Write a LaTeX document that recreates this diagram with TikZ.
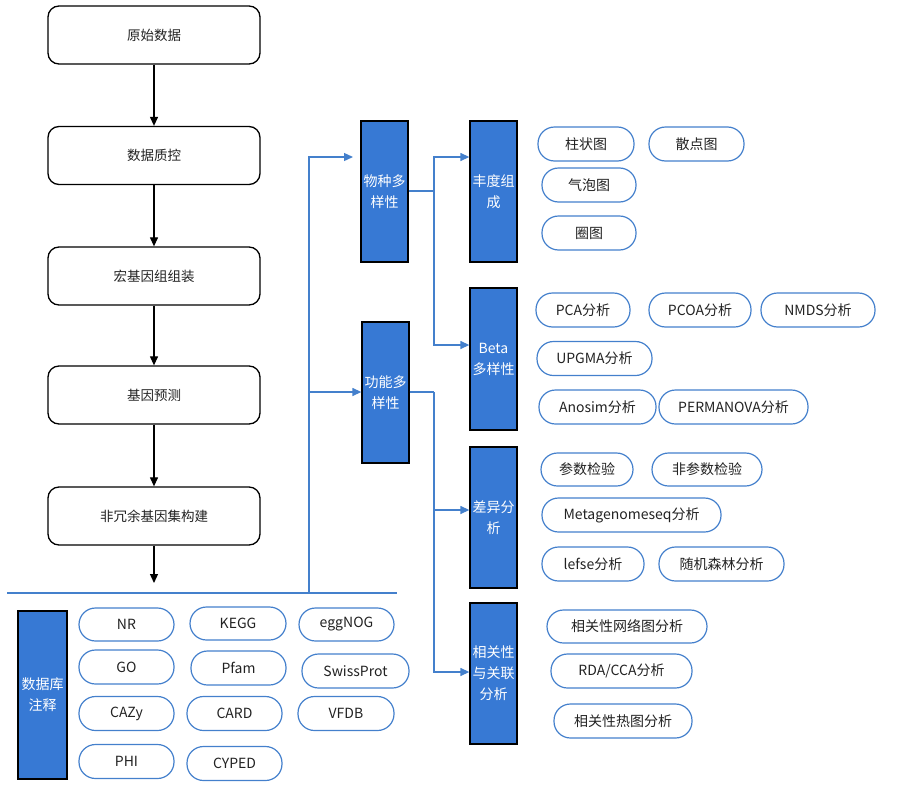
\documentclass[tikz,border=0pt]{standalone}
\usepackage{fontspec}
\setmainfont{Noto Sans CJK SC}
\usetikzlibrary{arrows.meta}
\definecolor{bfill}{RGB}{55,121,212}
\definecolor{bline}{RGB}{68,128,204}
\definecolor{txt}{RGB}{34,34,34}
\begin{document}
\begin{tikzpicture}[x=1pt,y=-1pt,font=\fontsize{13.5}{18}\selectfont,
  flow/.style={draw=black, line width=1.3pt, rounded corners=11pt, minimum width=212pt, minimum height=58pt, inner sep=0pt, text=txt},
  bbox/.style={draw=black, line width=1.3pt, fill=bfill, text=white, minimum width=47pt, minimum height=141pt, inner sep=0pt, align=center, font=\fontsize{14}{21}\selectfont},
  pill/.style={draw=bline, line width=1.2pt, rounded corners=16.5pt, minimum height=34pt, inner sep=0pt, text=txt, font=\fontsize{14}{18}\selectfont},
  blk/.style={draw=black, line width=1.2pt, -{Triangle[length=9pt,width=8pt]}},
  bl/.style={draw=bline, line width=1.4pt},
  barr/.style={draw=bline, line width=1.3pt, -{Triangle[length=9pt,width=8pt]}}
]
\useasboundingbox (0,0) rectangle (900,798);
% main flow
\node[flow] (f1) at (154,35) {原始数据};
\node[flow] (f2) at (154,155.5) {数据质控};
\node[flow] (f3) at (154,276) {宏基因组组装};
\node[flow] (f4) at (154,395) {基因预测};
\node[flow] (f5) at (154,516) {非冗余基因集构建};
\coordinate (f6) at (154,583);
\draw[blk] (f1.south) -- (f2.north);
\draw[blk] (f2.south) -- (f3.north);
\draw[blk] (f3.south) -- (f4.north);
\draw[blk] (f4.south) -- (f5.north);
\draw[blk] (f5.south) -- (f6);
% separator
\coordinate (hl) at (7,593);
\coordinate (hr) at (397,593);
\draw[bl] (hl) -- (hr);
% diversity boxes
\node[bbox] (sp) at (384.5,191.5) {物种多\\样性};
\node[bbox] (fn) at (385.5,392.5) {功能多\\样性};
\coordinate (j0) at (309,593);
\coordinate (j1) at (309,392);
\coordinate (a1) at (353,157);
\draw[barr] (j0) |- (a1);
\draw[barr] (j1) -- (fn.west |- j1);
% analysis boxes
\node[bbox] (ab) at (493.5,191.5) {丰度组\\成};
\node[bbox, minimum height=142pt] (be) at (493.5,359) {Beta\\多样性};
\node[bbox] (df) at (493.5,517.5) {差异分\\析};
\node[bbox] (co) at (493.5,673.5) {相关性\\与关联\\分析};
\coordinate (k0) at (434,191);
\coordinate (k1) at (434,392);
\coordinate (kt) at (434,157);
\coordinate (kb) at (434,672);
\draw[bl] (sp.east |- k0) -- (k0);
\draw[bl] (fn.east |- k1) -- (k1);
\draw[barr] (k0) |- (ab.west |- kt);
\draw[barr] (k0) |- (be.west |- 434,345);
\draw[barr] (k1) |- (df.west |- 434,510);
\draw[barr] (k1) |- (co.west |- kb);
% pills: abundance
\node[pill, minimum width=96pt] (p1) at (586,144) {柱状图};
\node[pill, minimum width=95pt] (p2) at (696.5,144) {散点图};
\node[pill, minimum width=94pt] (p3) at (589,185) {气泡图};
\node[pill, minimum width=94pt] (p4) at (589,233) {圈图};
% beta
\node[pill, minimum width=94pt] (q1) at (583,310) {PCA分析};
\node[pill, minimum width=102pt] (q2) at (700,310) {PCOA分析};
\node[pill, minimum width=114pt] (q3) at (818,310) {NMDS分析};
\node[pill, minimum width=115pt] (q4) at (594.5,358.5) {UPGMA分析};
\node[pill, minimum width=117pt] (q5) at (597.5,407) {Anosim分析};
\node[pill, minimum width=149pt] (q6) at (733.5,407) {PERMANOVA分析};
% difference
\node[pill, minimum width=92pt, minimum height=33pt] (r1) at (587,469.5) {参数检验};
\node[pill, minimum width=110pt, minimum height=33pt] (r2) at (707,469.5) {非参数检验};
\node[pill, minimum width=179pt] (r3) at (631.5,515) {Metagenomeseq分析};
\node[pill, minimum width=102pt] (r4) at (593,564) {lefse分析};
\node[pill, minimum width=125pt] (r5) at (721.5,564) {随机森林分析};
% correlation
\node[pill, minimum width=160pt, minimum height=33pt] (s1) at (627,626.5) {相关性网络图分析};
\node[pill, minimum width=141pt] (s2) at (621.5,671) {RDA/CCA分析};
\node[pill, minimum width=138pt] (s3) at (623,721) {相关性热图分析};
% database
\node[bbox, minimum width=49pt, minimum height=168pt] (db) at (42.5,695) {数据库\\注释};
\node[pill, minimum width=95pt, minimum height=33pt] (d1) at (126.5,624.5) {NR};
\node[pill, minimum width=96pt, minimum height=33pt] (d2) at (238,623.5) {KEGG};
\node[pill, minimum width=95pt, minimum height=33pt] (d3) at (346.5,624.5) {eggNOG};
\node[pill, minimum width=95pt] (d4) at (126.5,667) {GO};
\node[pill, minimum width=95pt] (d5) at (238.5,668) {Pfam};
\node[pill, minimum width=107pt] (d6) at (355.5,671) {SwissProt};
\node[pill, minimum width=95pt] (d7) at (126.5,713.5) {CAZy};
\node[pill, minimum width=95pt] (d8) at (234.5,713.5) {CARD};
\node[pill, minimum width=96pt] (d9) at (346,713.5) {VFDB};
\node[pill, minimum width=95pt] (d10) at (126.5,761.5) {PHI};
\node[pill, minimum width=95pt] (d11) at (234.5,763.5) {CYPED};
\end{tikzpicture}
\end{document}
